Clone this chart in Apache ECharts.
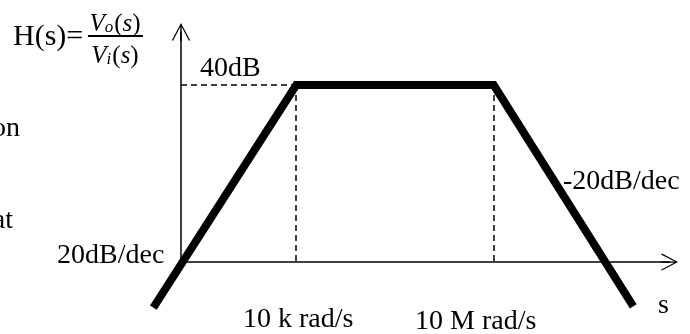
<!DOCTYPE html>
<html>
<head>
<meta charset="utf-8">
<script src="https://cdn.jsdelivr.net/npm/echarts@6/dist/echarts.min.js"></script>
<style>
html,body{margin:0;padding:0;background:#fff;}
#chart{width:690px;height:334px;}
</style>
</head>
<body>
<div id="chart"></div>
<script>
// Asymptotic Bode magnitude: x = log10(omega), y = gain in dB
const freqLog = [1.83, 4, 7, 9.12];
const gainDb = [-10.3, 40, 40, -10];
const cornerLog = [4, 7];
const passGain = 40;
const tickLabels = ['10 k rad/s', '10 M rad/s'];
const slopeLabels = ['20dB/dec', '-20dB/dec'];
const gainLabel = '40dB';
const axisLabel = 's';

const yAxisLog = 2.25;           // where the gain axis crosses the frequency axis
const xMin = 1.7, xMax = 9.67, yMin = -12, yMax = 52;
const FONT = '"Liberation Serif", "Times New Roman", serif';

const gridRight = 20.5, gridTop = 32, gridBottom = 18.8, axisLeft = 181;
const pxPerDec = (690 - gridRight - axisLeft) / (xMax - yAxisLog);
const plotLeft = axisLeft - (yAxisLog - xMin) * pxPerDec;
const pxPerDb = (334 - gridTop - gridBottom) / (yMax - yMin);
const axisBottom = gridBottom + (0 - yMin) * pxPerDb;   // frequency axis sits at 0 dB

const arrowPath = 'path://M50,0 L100,94 L95,100 L50,14 L5,100 L0,94 Z M46,5 L54,5 L54,100 L46,100 Z';

const chart = echarts.init(document.getElementById('chart'), null, {renderer: 'canvas'});

const lineData = freqLog.map((x, i) => [x, gainDb[i]]);

const dashLines = [
  [{coord: [yAxisLog, passGain]}, {coord: [cornerLog[0], passGain]}],
  [{coord: [cornerLog[0], passGain]}, {coord: [cornerLog[0], 0]}],
  [{coord: [cornerLog[1], passGain]}, {coord: [cornerLog[1], 0]}]
];

function txt(text, x, y, size, align) {
  return {
    type: 'text',
    style: {
      text: text, x: x, y: y,
      font: size + 'px ' + FONT,
      fill: '#000',
      align: align || 'left',
      verticalAlign: 'middle'
    },
    z: 10
  };
}

function fracPart(sub, y) {
  return {
    type: 'text',
    style: {
      text: '{v|V}{s|' + sub + '}{p|(}{v|s}{p|)}', x: 115, y: y, align: 'center', verticalAlign: 'middle',
      rich: {
        v: {font: 'italic 25px ' + FONT, fill: '#000'},
        p: {font: '25px ' + FONT, fill: '#000'},
        s: {font: 'italic 17px ' + FONT, fill: '#000', padding: [8, 1, 0, 0]}
      }
    }, z: 10
  };
}

const hidden = {show: false};

const option = {
  backgroundColor: '#fff',
  animation: false,
  grid: [
    {left: plotLeft, right: gridRight, top: gridTop, bottom: gridBottom},
    {left: axisLeft, right: gridRight, top: gridTop, bottom: axisBottom}
  ],
  xAxis: [
    {gridIndex: 0, type: 'value', min: xMin, max: xMax, axisLine: hidden, axisTick: hidden, axisLabel: hidden, splitLine: hidden},
    {
      gridIndex: 1, type: 'value', min: yAxisLog, max: xMax,
      axisLine: {show: true, onZero: false, symbol: ['none', arrowPath], symbolSize: [17, 17],
        lineStyle: {color: '#000', width: 1.5}},
      axisTick: hidden, axisLabel: hidden, splitLine: hidden
    }
  ],
  yAxis: [
    {gridIndex: 0, type: 'value', min: yMin, max: yMax, axisLine: hidden, axisTick: hidden, axisLabel: hidden, splitLine: hidden},
    {
      gridIndex: 1, type: 'value', min: 0, max: yMax,
      axisLine: {show: true, onZero: false, symbol: ['none', arrowPath], symbolSize: [20, 18],
        lineStyle: {color: '#000', width: 1.5}},
      axisTick: hidden, axisLabel: hidden, splitLine: hidden
    }
  ],
  series: [{
    type: 'line',
    xAxisIndex: 0, yAxisIndex: 0,
    data: lineData,
    clip: false,
    symbol: 'none',
    lineStyle: {color: '#000', width: 8, cap: 'butt', join: 'miter'},
    z: 5,
    markLine: {
      silent: true,
      symbol: 'none',
      label: {show: false},
      lineStyle: {color: '#000', width: 1.5, type: [6, 4]},
      data: dashLines,
      z: 3
    }
  }],
  graphic: [
    txt('H(s)=', 13, 37, 30),
    {type: 'line', shape: {x1: 88, y1: 36, x2: 143, y2: 36}, style: {stroke: '#000', lineWidth: 2}, z: 10},
    fracPart('o', 24),
    fracPart('i', 56),
    txt(gainLabel, 200, 69, 28),
    txt('on', 20, 129, 28, 'right'),
    txt('at', 13, 221, 28, 'right'),
    txt(slopeLabels[0], 57, 256, 28),
    txt(slopeLabels[1], 563, 182, 28),
    txt(axisLabel, 658, 306, 28),
    txt(tickLabels[0], 243, 320, 28),
    txt(tickLabels[1], 415, 322, 28)
  ]
};

chart.setOption(option);
</script>
</body>
</html>
